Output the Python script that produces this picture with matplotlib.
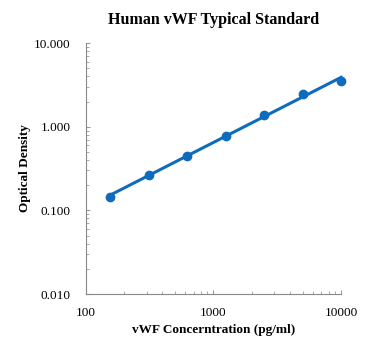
import matplotlib.pyplot as plt
import matplotlib.ticker as mticker
import numpy as np

conc = np.array([156.25, 312.5, 625, 1250, 2500, 5000, 10000])
od = np.array([0.146, 0.266, 0.448, 0.774, 1.40, 2.43, 3.53])

plt.rcParams['font.family'] = ['Liberation Serif', 'DejaVu Serif']
blue = '#0f6cbd'

fig = plt.figure(figsize=(3.72, 3.53), dpi=100)
ax = fig.add_axes([0.230, 0.167, 0.687, 0.711])

# power trendline fitted in log space
k, b = np.polyfit(np.log10(conc), np.log10(od), 1)
xs = np.array([conc.min(), conc.max()])
ax.plot(xs, 10**b * xs**k, color=blue, lw=2.2, clip_on=False)
ax.plot(conc, od, 'o', color=blue, ms=6, clip_on=False)

ax.set_xscale('log')
ax.set_yscale('log')
ax.set_xlim(100, 10000)
ax.set_ylim(0.01, 10)
ax.xaxis.set_major_formatter(mticker.FuncFormatter(lambda v, p: '%d' % v))
ax.yaxis.set_major_formatter(mticker.FuncFormatter(lambda v, p: '%.3f' % v))
ax.yaxis.set_minor_formatter(mticker.NullFormatter())
ax.xaxis.set_minor_formatter(mticker.NullFormatter())
for s in ['top', 'right']:
    ax.spines[s].set_visible(False)
for s in ['left', 'bottom']:
    ax.spines[s].set_color('#888888')
    ax.spines[s].set_linewidth(0.8)
ax.tick_params(which='both', direction='in', color='#999999', labelsize=9.5)
ax.tick_params(axis='y', which='major', length=3, pad=11)
ax.tick_params(axis='x', which='major', length=3, pad=9)
ax.tick_params(which='minor', length=2.5)

ax.set_title('Human vWF Typical Standard', fontsize=11.5, fontweight='bold', pad=14)
ax.set_xlabel('vWF Concerntration (pg/ml)', fontsize=9.5, fontweight='bold', labelpad=4)
ax.set_ylabel('Optical Density', fontsize=9.5, fontweight='bold', labelpad=2)

fig.savefig('out.png', dpi=100)
